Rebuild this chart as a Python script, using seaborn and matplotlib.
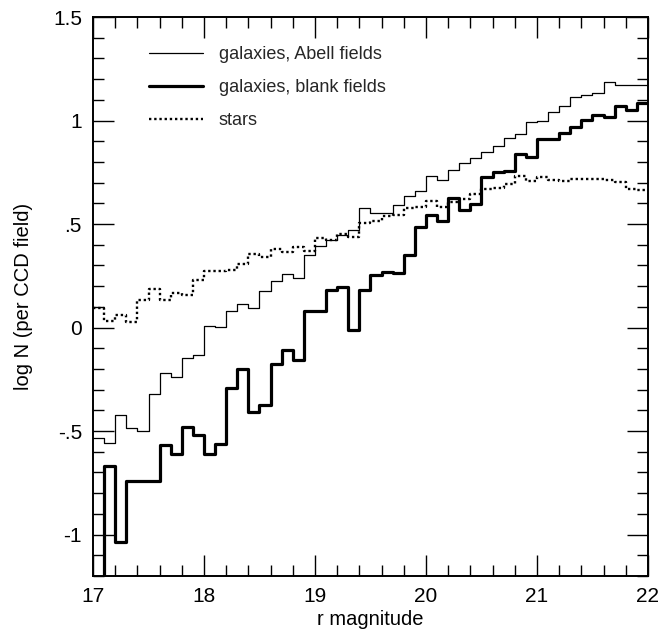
import numpy as np
import pandas as pd
import matplotlib
matplotlib.use("Agg")
import matplotlib.pyplot as plt
from matplotlib.ticker import MultipleLocator, FixedLocator, FixedFormatter
from matplotlib.lines import Line2D
import seaborn as sns

# r-magnitude bins, 0.1 mag wide, from 17.0 to 22.0 (left edges)
bin_left = [17.0 + 0.1 * i for i in range(50)]

# log N per CCD field in each bin
abell_fields = [
    -0.533, -0.559, -0.420, -0.486, -0.498, -0.320, -0.220, -0.240, -0.147, -0.132,
    0.008, 0.002, 0.079, 0.114, 0.094, 0.175, 0.224, 0.257, 0.240, 0.353,
    0.396, 0.424, 0.449, 0.469, 0.578, 0.552, 0.552, 0.594, 0.638, 0.662,
    0.734, 0.715, 0.762, 0.794, 0.820, 0.847, 0.879, 0.918, 0.933, 0.992,
    1.000, 1.040, 1.068, 1.116, 1.124, 1.132, 1.185, 1.174, 1.172, 1.172,
]
blank_fields = [
    -1.400, -0.671, -1.034, -0.739, -0.739, -0.739, -0.565, -0.613, -0.478, -0.517,
    -0.613, -0.562, -0.290, -0.200, -0.406, -0.372, -0.176, -0.106, -0.156, 0.079,
    0.079, 0.182, 0.195, -0.014, 0.182, 0.254, 0.267, 0.262, 0.353, 0.485,
    0.546, 0.517, 0.626, 0.569, 0.598, 0.729, 0.750, 0.757, 0.837, 0.823,
    0.911, 0.911, 0.939, 0.968, 1.003, 1.029, 1.016, 1.068, 1.052, 1.084,
]
stars = [
    0.095, 0.030, 0.063, 0.026, 0.134, 0.184, 0.134, 0.166, 0.155, 0.230,
    0.275, 0.275, 0.280, 0.308, 0.356, 0.343, 0.380, 0.366, 0.388, 0.369,
    0.433, 0.424, 0.453, 0.436, 0.504, 0.517, 0.541, 0.546, 0.578, 0.581,
    0.613, 0.581, 0.605, 0.622, 0.646, 0.670, 0.675, 0.692, 0.734, 0.710,
    0.726, 0.715, 0.710, 0.718, 0.718, 0.718, 0.713, 0.702, 0.670, 0.665,
]

series_labels = ["galaxies, Abell fields", "galaxies, blank fields", "stars"]
y_tick_values = [-1.0, -0.5, 0.0, 0.5, 1.0, 1.5]
y_tick_labels = ["-1", "-.5", "0", ".5", "1", "1.5"]

sns.set_theme(style="ticks")
plt.rcParams["font.family"] = ["Liberation Sans", "DejaVu Sans"]

fig = plt.figure(figsize=(6.61, 6.32), dpi=100)
ax = fig.add_axes([0.1407, 0.0886, 0.8396, 0.8844])

edges = bin_left + [22.0]


def step_frame(values):
    return pd.DataFrame({"mag": edges, "logN": list(values) + [values[-1]]})


styles = [
    dict(lw=0.9, ls="-"),
    dict(lw=2.3, ls="-"),
    dict(lw=1.7, ls=(0, (1.0, 1.2))),
]
for values, st in zip([abell_fields, blank_fields, stars], styles):
    sns.lineplot(data=step_frame(values), x="mag", y="logN", ax=ax,
                 color="black", linewidth=st["lw"], linestyle=st["ls"],
                 drawstyle="steps-post", estimator=None, sort=False,
                 legend=False)

ax.set_xlim(17, 22)
ax.set_ylim(-1.2, 1.5)

ax.xaxis.set_major_locator(MultipleLocator(1))
ax.xaxis.set_minor_locator(MultipleLocator(0.2))
ax.yaxis.set_major_locator(FixedLocator(y_tick_values))
ax.yaxis.set_major_formatter(FixedFormatter(y_tick_labels))
ax.yaxis.set_minor_locator(MultipleLocator(0.1))

ax.tick_params(which="both", direction="in", top=True, right=True,
               color="black", width=1.0, labelsize=15, labelcolor="black")
ax.tick_params(which="major", length=15, pad=8)
ax.tick_params(which="minor", length=8)
for sp in ax.spines.values():
    sp.set_linewidth(1.4)
    sp.set_color("black")

ax.set_xlabel("r magnitude", fontsize=14.5, color="black", labelpad=3)
ax.set_ylabel("log N (per CCD field)", fontsize=14.5, color="black", labelpad=14)

handles = [Line2D([], [], color="black", lw=st["lw"], ls=st["ls"]) for st in styles]
ax.legend(handles, series_labels, loc="upper left",
          bbox_to_anchor=(0.10, 0.948), frameon=False, fontsize=13,
          handlelength=3.0, handletextpad=0.9, labelspacing=0.88,
          borderaxespad=0, borderpad=0)

fig.savefig("out.png", dpi=100)
